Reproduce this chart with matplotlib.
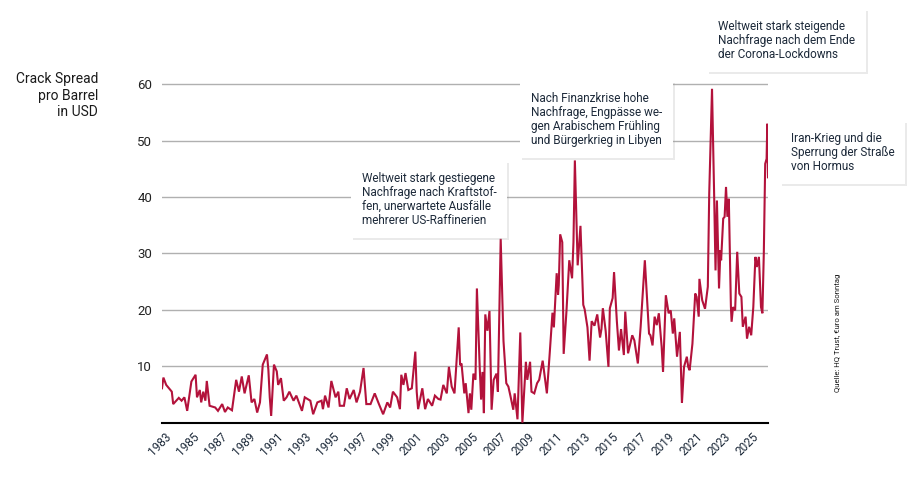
import numpy as np
import matplotlib
matplotlib.use("Agg")
import matplotlib.pyplot as plt
import matplotlib.patheffects as pe
import matplotlib.transforms as mtrans

plt.rcParams['font.family'] = ['Roboto', 'DejaVu Sans']

# crack spread in USD per barrel (decimal years)
dates_83 = [1983.0, 1983.1, 1983.3, 1983.7, 1983.8, 1984.2, 1984.4, 1984.6, 1984.8,
            1985.1, 1985.4, 1985.5, 1985.7, 1985.8, 1985.95, 1986.1, 1986.2, 1986.4,
            1986.8, 1987.0, 1987.3, 1987.5, 1987.7, 1988.0, 1988.3, 1988.5, 1988.7,
            1988.9, 1989.2, 1989.4, 1989.6, 1989.8, 1990.0, 1990.2, 1990.5, 1990.6,
            1990.7, 1990.8, 1991.0, 1991.2, 1991.3, 1991.5, 1991.7, 1991.9, 1992.1,
            1992.4, 1992.6, 1993.0, 1993.2, 1993.6, 1993.8, 1994.1, 1994.4, 1994.5,
            1994.65, 1994.9, 1995.1, 1995.4, 1995.6, 1995.7, 1996.0, 1996.2, 1996.4,
            1996.7, 1996.9, 1997.15, 1997.4, 1997.6, 1997.9, 1998.2, 1998.5, 1998.8,
            1999.1, 1999.3, 1999.5, 1999.8, 2000.0, 2000.1, 2000.25, 2000.4, 2000.6,
            2000.85, 2001.1, 2001.2, 2001.3, 2001.6, 2001.8, 2002.0, 2002.3, 2002.5,
            2002.75]
spread_83 = [6.1, 8.0, 6.7, 5.5, 3.3, 4.4, 3.9, 4.5, 2.1, 7.3, 8.5, 4.5, 5.8, 3.6, 5.5,
             3.9, 7.4, 3.0, 2.7, 2.1, 3.3, 1.9, 2.7, 2.2, 7.6, 5.5, 8.2, 5.2, 8.4, 3.6,
             4.2, 1.8, 3.6, 10.3, 12.1, 9.4, 4.5, 1.2, 10.3, 9.1, 6.7, 7.9, 3.9, 4.5,
             5.5, 3.9, 4.8, 2.1, 4.5, 3.9, 1.5, 3.6, 3.9, 2.4, 4.8, 2.7, 7.4, 4.5, 5.5,
             3.0, 3.0, 6.1, 4.2, 5.8, 3.6, 5.5, 9.7, 3.3, 3.3, 5.2, 3.3, 1.5, 3.6, 2.7,
             5.5, 4.5, 2.4, 8.5, 6.7, 8.8, 5.8, 6.1, 12.6, 5.5, 2.4, 6.1, 2.4, 4.2, 3.0,
             4.8, 4.2]

dates_03 = [2002.9, 2003.1, 2003.35, 2003.5, 2003.7, 2003.9, 2004.0, 2004.2, 2004.3,
            2004.4, 2004.6, 2004.7, 2004.9, 2005.0, 2005.1, 2005.25, 2005.4, 2005.5,
            2005.7, 2005.8, 2005.9, 2006.0, 2006.1, 2006.25, 2006.4, 2006.55, 2006.7,
            2006.9, 2007.0, 2007.2, 2007.4, 2007.6, 2007.75, 2007.9, 2008.1, 2008.2,
            2008.4, 2008.6, 2008.75, 2008.9, 2009.0, 2009.1, 2009.3, 2009.4, 2009.6,
            2009.8, 2009.95, 2010.2, 2010.5, 2010.7, 2010.9, 2011.0, 2011.2, 2011.3,
            2011.35, 2011.45, 2011.6, 2011.7, 2011.9, 2012.1, 2012.3, 2012.4, 2012.5,
            2012.7, 2012.9, 2013.1, 2013.2, 2013.4, 2013.55, 2013.7, 2013.9, 2014.1,
            2014.3, 2014.4, 2014.5, 2014.7, 2014.9, 2015.0, 2015.2, 2015.3, 2015.5,
            2015.65, 2015.8]
spread_03 = [4.1, 6.7, 5.2, 9.9, 6.4, 5.2, 9.0, 16.9, 10.2, 10.5, 5.2, 7.0, 1.7, 5.2,
             2.3, 8.7, 7.6, 23.8, 9.9, 4.1, 9.0, 1.7, 19.2, 16.3, 19.8, 2.3, 7.6, 8.7,
             5.5, 32.6, 14.5, 7.0, 6.4, 4.7, 2.3, 5.2, 0.6, 16.0, 0.0, 6.4, 10.8, 7.6,
             10.8, 5.5, 5.2, 7.0, 7.6, 11.0, 5.2, 12.2, 19.5, 16.9, 26.5, 22.7, 24.4,
             33.4, 32.0, 12.2, 19.8, 28.8, 25.6, 32.0, 46.5, 27.9, 34.9, 20.9, 20.1,
             16.9, 11.0, 18.0, 17.2, 19.2, 15.1, 16.6, 20.3, 16.3, 9.9, 20.3, 22.1,
             26.7, 18.0, 12.8, 16.6]

dates_16 = [2016.0, 2016.1, 2016.3, 2016.6, 2016.75, 2017.0, 2017.2, 2017.5, 2017.8,
            2017.9, 2018.05, 2018.2, 2018.35, 2018.5, 2018.7, 2018.8, 2019.0, 2019.2,
            2019.35, 2019.5, 2019.6, 2019.8, 2020.0, 2020.15, 2020.3, 2020.5, 2020.6,
            2020.7, 2020.9, 2021.1, 2021.2, 2021.35, 2021.4, 2021.6, 2021.8, 2022.0,
            2022.1, 2022.3, 2022.45, 2022.55, 2022.65, 2022.8, 2022.9, 2022.95, 2023.1,
            2023.2, 2023.3, 2023.4, 2023.5, 2023.65, 2023.7, 2023.8, 2023.95, 2024.1,
            2024.25, 2024.4, 2024.5, 2024.7, 2024.8, 2024.95, 2025.1, 2025.25, 2025.4,
            2025.5, 2025.65, 2025.8, 2025.9, 2026.0, 2026.1, 2026.2, 2026.25, 2026.3]
spread_16 = [12.0, 19.7, 12.3, 15.5, 14.6, 10.5, 17.0, 28.8, 15.8, 15.5, 13.7, 18.8,
             17.3, 19.4, 13.5, 9.0, 22.6, 19.4, 19.9, 15.8, 18.5, 11.7, 16.1, 3.5, 9.9,
             11.7, 9.9, 9.3, 14.0, 22.9, 22.3, 18.8, 25.5, 21.7, 20.2, 24.1, 40.6, 59.2,
             40.6, 27.0, 39.4, 23.8, 30.6, 28.8, 36.2, 36.5, 41.8, 36.5, 39.7, 20.5,
             17.9, 20.5, 19.9, 30.3, 22.9, 22.3, 17.0, 18.8, 14.9, 17.0, 15.5, 20.5,
             29.4, 27.6, 29.4, 20.5, 19.4, 30.0, 45.9, 46.8, 53.0, 43.5]

tick_years = list(range(1983, 2026, 2))

notes = [
    "Weltweit stark gestiegene\nNachfrage nach Kraftstof-\nfen, unerwartete Ausfälle\nmehrerer US-Raffinerien",
    "Nach Finanzkrise hohe\nNachfrage, Engpässe we-\ngen Arabischem Frühling\nund Bürgerkrieg in Libyen",
    "Weltweit stark steigende\nNachfrage nach dem Ende\nder Corona-Lockdowns",
    "Iran-Krieg und die\nSperrung der Straße\nvon Hormus",
]
note_pos = [(362, 172), (531, 92), (718, 20), (791, 132)]  # pixel positions of text top-left

dates = dates_83 + dates_03 + dates_16
spread = spread_83 + spread_03 + spread_16

W, H = 915, 495
fig = plt.figure(figsize=(W / 100, H / 100), dpi=100)
ax = fig.add_axes([162 / W, 1 - 422.7 / H, (768 - 162) / W, (422.7 - 73) / H])

ax.plot(dates, spread, color='#b3123b', lw=1.5, zorder=3, solid_joinstyle='miter')

ax.set_xlim(1983.0, 2026.3)
ax.set_ylim(0, 62)
ax.set_yticks([10, 20, 30, 40, 50, 60])
ax.yaxis.grid(True, color='#b0b0b0', lw=1)
ax.set_axisbelow(True)
for s in ['top', 'right', 'left']:
    ax.spines[s].set_visible(False)
ax.spines['bottom'].set_color('black')
ax.spines['bottom'].set_linewidth(1.5)
ax.tick_params(axis='y', length=0, pad=7, labelsize=9.5, labelcolor='#222222')
ax.set_xticks(tick_years)
ax.set_xticklabels([str(y) for y in tick_years], rotation=45, ha='right', va='center',
                   rotation_mode='anchor', fontsize=8.5, color='#1d2a3a')
ax.tick_params(axis='x', length=0, pad=9)
shift = mtrans.ScaledTranslation(7 / 100, 0, fig.dpi_scale_trans)
for lab in ax.get_xticklabels():
    lab.set_transform(lab.get_transform() + shift)

fig.text(98 / W, 1 - 72 / H, "Crack Spread\npro Barrel\nin USD", ha='right', va='top',
         fontsize=10, color='#1a1a1a', linespacing=1.25)

for txt, (px, py) in zip(notes, note_pos):
    t = fig.text(px / W, 1 - py / H, txt, ha='left', va='top', fontsize=8.5,
                 color='#1d2a3a', linespacing=1.1,
                 bbox=dict(boxstyle='square,pad=0.9', fc='white', ec='none'))
    t.get_bbox_patch().set_path_effects([
        pe.withSimplePatchShadow(offset=(1.5, -1.5), shadow_rgbFace='#999999', alpha=0.2)])

fig.text(838 / W, 1 - 333 / H, "Quelle: HQ Trust, €uro am Sonntag", rotation=90,
         ha='center', va='center', fontsize=5.6, color='#1a1a1a')

fig.savefig('out.png', dpi=100)
